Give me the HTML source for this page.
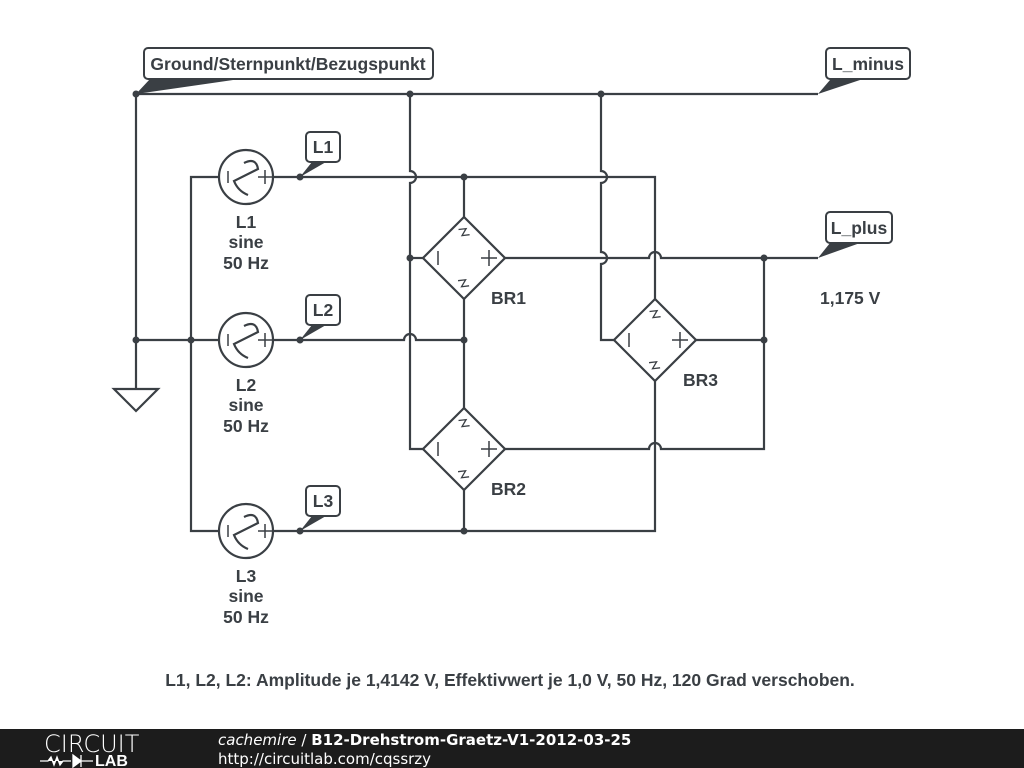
<!DOCTYPE html>
<html><head><meta charset="utf-8"><style>
body{margin:0;width:1024px;height:768px;background:#fff;overflow:hidden;font-family:"Liberation Sans",sans-serif}
</style></head><body>
<svg width="1024" height="768" xmlns="http://www.w3.org/2000/svg" style="position:absolute;left:0;top:0">
<defs>
<g id="src">
<circle cx="0" cy="0" r="27" fill="#fff" stroke="#3a3f44" stroke-width="2.2"/>
<line x1="-18" y1="-6" x2="-18" y2="6" stroke="#3a3f44" stroke-width="1.5"/>
<path d="M-2,-14 Q10,-20 12,-8 L-12,4 Q-8,14 2,18" fill="none" stroke="#3a3f44" stroke-width="2.2"/>
<path d="M12,0 h14 M19,-7 v14" stroke="#3a3f44" stroke-width="1.5"/>
</g>
<g id="br">
<polygon points="0,-41 41,0 0,41 -41,0" fill="#fff" stroke="#3a3f44" stroke-width="2.2"/>
<line x1="-26" y1="-7" x2="-26" y2="7" stroke="#3a3f44" stroke-width="1.5"/>
<path d="M17,0 h16 M25,-8 v16" stroke="#3a3f44" stroke-width="1.5"/>
<path d="M-4,-31 l7,3 l-7,4 l7,3" fill="none" stroke="#3a3f44" stroke-width="1.3" transform="rotate(-30 0 -27)"/>
<path d="M-4,20 l7,3 l-7,4 l7,3" fill="none" stroke="#3a3f44" stroke-width="1.3" transform="rotate(-30 0 25)"/>
</g>
</defs>
<g stroke="#3a3f44" stroke-width="2.2" fill="none">
<path d="M136,94 H818"/>
<path d="M136,94 V389"/>
<path d="M114,389 H158 L136,411 Z"/>
<path d="M136,340 H219"/>
<path d="M219,177 H191 V531 H219"/>
<path d="M273,177 H655 V299"/>
<path d="M464,177 V217"/>
<path d="M273,340 H404 A6,6 0 0 1 416,340 H464"/>
<path d="M464,299 V408"/>
<path d="M273,531 H655 V381"/>
<path d="M464,490 V531"/>
<path d="M410,94 V171 A6,6 0 0 1 410,183 V449 H423"/>
<path d="M410,258 H423"/>
<path d="M601,94 V171 A6,6 0 0 1 601,183 V252 A6,6 0 0 1 601,264 V340 H614"/>
<path d="M505,258 H649 A6,6 0 0 1 661,258 H818"/>
<path d="M505,449 H649 A6,6 0 0 1 661,449 H764 V258"/>
<path d="M696,340 H764"/>
</g>
<use href="#src" x="246" y="177"/>
<use href="#src" x="246" y="340"/>
<use href="#src" x="246" y="531"/>
<use href="#br" x="464" y="258"/>
<use href="#br" x="464" y="449"/>
<use href="#br" x="655" y="340"/>
<g fill="#3a3f44">
<circle cx="136" cy="94" r="3.5"/><circle cx="410" cy="94" r="3.5"/><circle cx="601" cy="94" r="3.5"/>
<circle cx="300" cy="177" r="3.5"/><circle cx="300" cy="340" r="3.5"/><circle cx="300" cy="531" r="3.5"/>
<circle cx="464" cy="177" r="3.5"/><circle cx="464" cy="340" r="3.5"/><circle cx="464" cy="531" r="3.5"/>
<circle cx="410" cy="258" r="3.5"/><circle cx="764" cy="258" r="3.5"/><circle cx="764" cy="340" r="3.5"/>
<circle cx="136" cy="340" r="3.5"/><circle cx="191" cy="340" r="3.5"/>
<polygon points="136,94 150,79 240,79"/>
<polygon points="818,94 830,80 860,80"/>
<polygon points="818,258 830,243 860,243"/>
<polygon points="300,177 312,162 326,162"/>
<polygon points="300,340 312,325 326,325"/>
<polygon points="300,531 312,516 326,516"/>
</g>
<g fill="#fff" stroke="#3a3f44" stroke-width="2">
<rect x="144" y="48" width="289" height="31" rx="4"/>
<rect x="826" y="48" width="84" height="31" rx="4"/>
<rect x="826" y="212" width="66" height="31" rx="4"/>
<rect x="306" y="132" width="34" height="30" rx="4"/>
<rect x="306" y="295" width="34" height="30" rx="4"/>
<rect x="306" y="486" width="34" height="30" rx="4"/>
</g>
<g fill="#3a3f44" font-weight="bold" font-size="17.5" font-family="Liberation Sans, sans-serif">
<text x="288" y="70" text-anchor="middle">Ground/Sternpunkt/Bezugspunkt</text>
<text x="868" y="70" text-anchor="middle">L_minus</text>
<text x="859" y="234" text-anchor="middle">L_plus</text>
<text x="323" y="153" text-anchor="middle">L1</text>
<text x="323" y="316" text-anchor="middle">L2</text>
<text x="323" y="507" text-anchor="middle">L3</text>
<g text-anchor="middle">
<text x="246" y="228">L1</text><text x="246" y="248">sine</text><text x="246" y="269">50 Hz</text>
<text x="246" y="391">L2</text><text x="246" y="411">sine</text><text x="246" y="432">50 Hz</text>
<text x="246" y="582">L3</text><text x="246" y="602">sine</text><text x="246" y="623">50 Hz</text>
</g>
<text x="491" y="304">BR1</text>
<text x="491" y="495">BR2</text>
<text x="683" y="386">BR3</text>
<text x="820" y="304">1,175 V</text>
<text x="510" y="686" text-anchor="middle">L1, L2, L2: Amplitude je 1,4142 V, Effektivwert je 1,0 V, 50 Hz, 120 Grad verschoben.</text>
</g>
<rect x="0" y="729" width="1024" height="39" fill="#1c1c1c"/>
<text x="44" y="752" fill="#fff" font-size="24" font-family="DejaVu Sans, sans-serif" font-weight="200">CIRCUIT</text>
<path d="M40,761 h8 l3,-4 3,8 3,-8 3,8 3,-4 h8 M73,755 v12 l8,-6 z M81,755 v12 M81,761 h12" stroke="#fff" stroke-width="1.3" fill="#fff"/>
<text x="95" y="766" fill="#fff" font-size="16" font-weight="bold" font-family="Liberation Sans, sans-serif">LAB</text>
<text x="218" y="745" fill="#fff" font-size="15" font-family="DejaVu Sans, sans-serif"><tspan font-style="italic">cachemire</tspan> / <tspan font-weight="bold">B12-Drehstrom-Graetz-V1-2012-03-25</tspan></text>
<text x="218" y="764" fill="#fff" font-size="15" font-family="DejaVu Sans, sans-serif">http://circuitlab.com/cqssrzy</text>
</svg>
</body></html>
